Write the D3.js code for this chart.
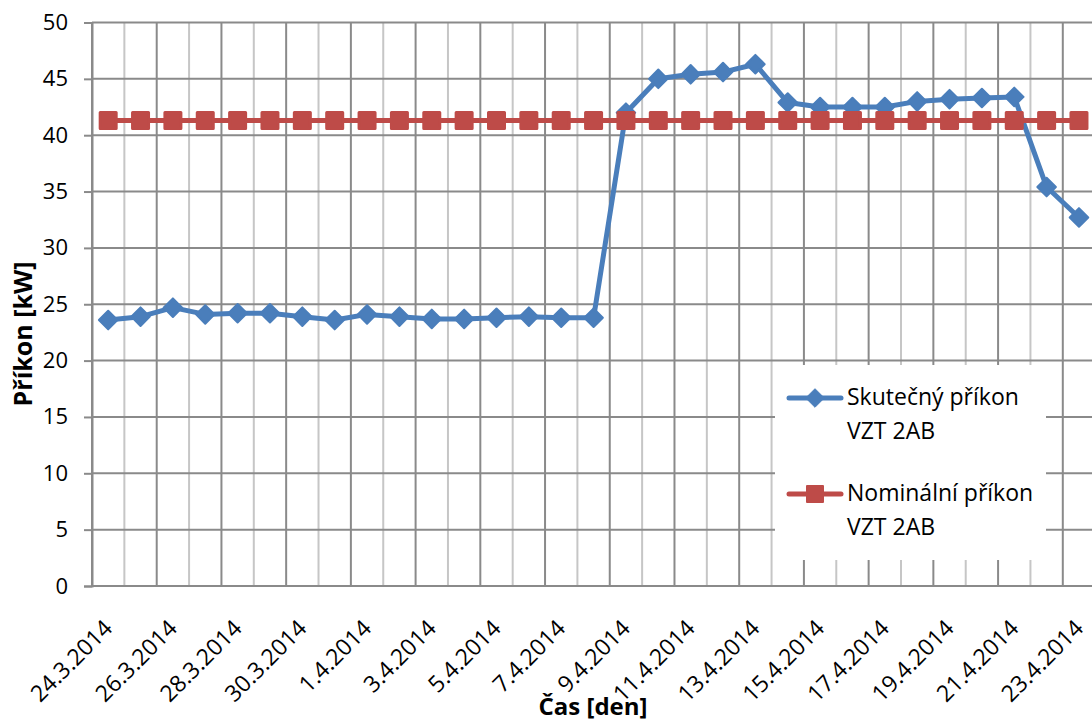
<!DOCTYPE html>
<html>
<head>
<meta charset="utf-8">
<script src="https://cdn.jsdelivr.net/npm/d3@7"></script>
<style>
  html, body { margin: 0; padding: 0; background: #ffffff; }
  svg { display: block; }
  text { font-family: "Open Sans", "Noto Sans", sans-serif; fill: #000; }
</style>
</head>
<body>
<svg id="chart" width="1092" height="724"></svg>
<script>
// Days of the measurement period
const dates = [
  "24.3.2014", "25.3.2014", "26.3.2014", "27.3.2014", "28.3.2014", "29.3.2014",
  "30.3.2014", "31.3.2014", "1.4.2014", "2.4.2014", "3.4.2014", "4.4.2014",
  "5.4.2014", "6.4.2014", "7.4.2014", "8.4.2014", "9.4.2014", "10.4.2014",
  "11.4.2014", "12.4.2014", "13.4.2014", "14.4.2014", "15.4.2014", "16.4.2014",
  "17.4.2014", "18.4.2014", "19.4.2014", "20.4.2014", "21.4.2014", "22.4.2014",
  "23.4.2014"
];

// Measured input power [kW]
const actualPower = [
  23.6, 23.9, 24.7, 24.1, 24.2, 24.2, 23.9, 23.6, 24.1, 23.9, 23.7,
  23.7, 23.8, 23.9, 23.8, 23.8, 42.0, 45.0, 45.4, 45.6, 46.3, 42.9,
  42.5, 42.5, 42.5, 43.0, 43.2, 43.3, 43.4, 35.4, 32.7
];

// Nominal input power [kW]
const nominalPower = [
  41.3, 41.3, 41.3, 41.3, 41.3, 41.3, 41.3, 41.3, 41.3, 41.3, 41.3,
  41.3, 41.3, 41.3, 41.3, 41.3, 41.3, 41.3, 41.3, 41.3, 41.3, 41.3,
  41.3, 41.3, 41.3, 41.3, 41.3, 41.3, 41.3, 41.3, 41.3
];

// Every second day is labelled on the category axis
const xTickLabels = [
  "24.3.2014", "26.3.2014", "28.3.2014", "30.3.2014", "1.4.2014", "3.4.2014",
  "5.4.2014", "7.4.2014", "9.4.2014", "11.4.2014", "13.4.2014", "15.4.2014",
  "17.4.2014", "19.4.2014", "21.4.2014", "23.4.2014"
];
const yTickValues = [0, 5, 10, 15, 20, 25, 30, 35, 40, 45, 50];

const seriesNames = [
  ["Skutečný příkon", "VZT 2AB"],
  ["Nominální příkon", "VZT 2AB"]
];

const BLUE = "#4a7ebb";
const RED = "#be4b48";
const GRID_MAJOR = "#8a8a8a";
const GRID_MINOR = "#c6c6c6";

const svg = d3.select("#chart");
svg.append("rect").attr("width", 1092).attr("height", 724).attr("fill", "#fff");

const plotLeft = 92, plotTop = 22.5, plotBottom = 586;
const step = 32.36;

const x = d3.scaleBand().domain(dates).range([plotLeft, plotLeft + step * dates.length]).padding(0);
const y = d3.scaleLinear().domain([0, 50]).range([plotBottom, plotTop]);
const cx = d => x(d) + x.bandwidth() / 2;
const plotRight = x.range()[1];

// Vertical gridlines on category boundaries (darker on labelled ticks)
const boundaries = dates.map((d, i) => ({ pos: x(d), major: i % 2 === 0 }));
boundaries.push({ pos: plotRight, major: dates.length % 2 === 0 });
svg.append("g").selectAll("line").data(boundaries).join("line")
  .attr("x1", d => d.pos).attr("x2", d => d.pos)
  .attr("y1", plotTop).attr("y2", plotBottom)
  .attr("stroke", d => d.major ? GRID_MAJOR : GRID_MINOR)
  .attr("stroke-width", 2);

// Horizontal gridlines
svg.append("g").selectAll("line").data(yTickValues).join("line")
  .attr("x1", plotLeft).attr("x2", plotRight)
  .attr("y1", d => y(d)).attr("y2", d => y(d))
  .attr("stroke", GRID_MAJOR).attr("stroke-width", 2);

// Value axis
const yAxis = svg.append("g")
  .attr("transform", `translate(${plotLeft},0)`)
  .call(d3.axisLeft(y).tickValues(yTickValues).tickSize(8).tickPadding(16));
yAxis.select(".domain").attr("stroke", GRID_MAJOR).attr("stroke-width", 2);
yAxis.selectAll(".tick line").attr("stroke", GRID_MAJOR).attr("stroke-width", 2);
yAxis.selectAll(".tick text")
  .style("font-family", "'Open Sans', sans-serif")
  .attr("font-size", 22).attr("fill", "#000");

// Category axis labels, rotated
svg.append("g").selectAll("text").data(xTickLabels).join("text")
  .attr("transform", d => `translate(${cx(d)},${624}) rotate(-45)`)
  .attr("text-anchor", "end")
  .attr("dy", "0.35em")
  .attr("font-size", 23)
  .text(d => d);

// Axis titles
svg.append("text")
  .attr("transform", "translate(32,334) rotate(-90)")
  .attr("text-anchor", "middle")
  .attr("font-size", 25).attr("font-weight", 700)
  .text("Příkon [kW]");
svg.append("text")
  .attr("x", 593).attr("y", 715)
  .attr("text-anchor", "middle")
  .attr("font-size", 24).attr("font-weight", 700)
  .text("Čas [den]");

// Series
const line = d3.line().x(d => cx(d.date)).y(d => y(d.value));
const actualData = dates.map((d, i) => ({ date: d, value: actualPower[i] }));
const nominalData = dates.map((d, i) => ({ date: d, value: nominalPower[i] }));

const diamond = d3.symbol().type(d3.symbolDiamond2).size(220);
const square = d3.symbol().type(d3.symbolSquare).size(256);

const plot = svg.append("g");

plot.append("path").datum(actualData)
  .attr("d", line).attr("fill", "none")
  .attr("stroke", BLUE).attr("stroke-width", 5)
  .attr("stroke-linejoin", "round").attr("stroke-linecap", "round");
plot.append("g").selectAll("path").data(actualData).join("path")
  .attr("transform", d => `translate(${cx(d.date)},${y(d.value)})`)
  .attr("d", diamond)
  .attr("fill", BLUE).attr("stroke", BLUE).attr("stroke-width", 2)
  .attr("stroke-linejoin", "round");

plot.append("path").datum(nominalData)
  .attr("d", line).attr("fill", "none")
  .attr("stroke", RED).attr("stroke-width", 5)
  .attr("stroke-linecap", "round");
plot.append("g").selectAll("path").data(nominalData).join("path")
  .attr("transform", d => `translate(${cx(d.date)},${y(d.value)})`)
  .attr("d", square)
  .attr("fill", RED).attr("stroke", RED).attr("stroke-width", 3)
  .attr("stroke-linejoin", "round");

// Legend
const legend = svg.append("g");
legend.append("rect")
  .attr("x", 775).attr("y", 365).attr("width", 271).attr("height", 195)
  .attr("fill", "#fff");

const legendItems = [
  { color: BLUE, sym: diamond, names: seriesNames[0], cy: 398, base: 405 },
  { color: RED, sym: square, names: seriesNames[1], cy: 494, base: 501 }
];
legendItems.forEach(item => {
  const g = legend.append("g");
  g.append("line")
    .attr("x1", 789).attr("x2", 841).attr("y1", item.cy).attr("y2", item.cy)
    .attr("stroke", item.color).attr("stroke-width", 5).attr("stroke-linecap", "round");
  g.append("path")
    .attr("transform", `translate(815,${item.cy})`)
    .attr("d", item.sym)
    .attr("fill", item.color).attr("stroke", item.color)
    .attr("stroke-width", item.sym === square ? 2 : 1)
    .attr("stroke-linejoin", "round");
  item.names.forEach((t, j) => {
    g.append("text")
      .attr("x", 847).attr("y", item.base + j * 33.5)
      .attr("font-size", 23)
      .text(t);
  });
});
</script>
</body>
</html>
